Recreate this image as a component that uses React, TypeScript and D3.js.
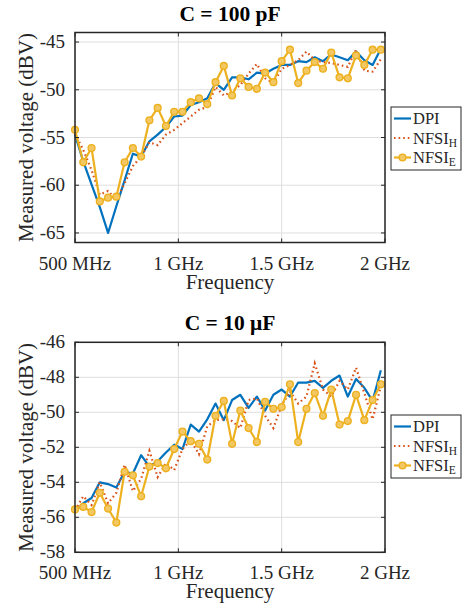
import React from 'react';
import * as d3 from 'd3';

// frequency points (GHz), 40 MHz steps
const FREQ_GHZ = [
  0.5, 0.54, 0.58, 0.62, 0.66, 0.7, 0.74, 0.78, 0.82, 0.86, 0.9, 0.94, 0.98,
  1.02, 1.06, 1.1, 1.14, 1.18, 1.22, 1.26, 1.3, 1.34, 1.38, 1.42, 1.46, 1.5,
  1.54, 1.58, 1.62, 1.66, 1.7, 1.74, 1.78, 1.82, 1.86, 1.9, 1.94, 1.98,
];

const X_TICKS = [0.5, 1, 1.5, 2];
const X_TICK_LABELS = ['500 MHz', '1 GHz', '1.5 GHz', '2 GHz'];

// C = 100 pF
const DPI_100P = [
  -54.7, -57.5, -59.9, -62.3, -65.0, -62.2, -59.5, -56.7, -57.0, -55.4, -54.7, -53.9, -52.8,
  -52.7, -51.6, -51.3, -50.9, -49.3, -50.0, -48.7, -48.7, -48.9, -48.2, -48.3, -47.8, -47.4,
  -47.4, -47.0, -47.1, -46.6, -47.0, -46.3, -46.6, -46.9, -46.0, -46.9, -47.4, -45.7,
];
const NFSIH_100P = [
  -54.6, -56.3, -58.4, -61.0, -60.6, -61.5, -59.8, -58.0, -57.0, -55.5, -55.8, -54.7, -54.2,
  -53.5, -52.8, -52.1, -51.8, -49.7, -50.6, -50.2, -49.5, -48.3, -47.3, -48.8, -49.3, -47.8,
  -47.4, -46.9, -46.0, -46.9, -47.1, -47.2, -47.4, -47.6, -45.8, -48.0, -48.1, -46.8,
];
const NFSIE_100P = [
  -54.2, -57.6, -56.1, -61.7, -61.3, -61.2, -57.6, -56.1, -57.0, -53.2, -51.9, -53.8, -52.3,
  -52.3, -51.3, -50.9, -51.5, -49.2, -47.5, -50.6, -48.8, -49.7, -49.9, -48.2, -49.2, -47.0,
  -45.8, -49.3, -48.0, -47.1, -47.8, -46.1, -48.7, -48.8, -46.4, -47.4, -45.8, -45.8,
];

// C = 10 uF
const DPI_10U = [
  -55.7, -55.2, -54.9, -54.0, -54.1, -54.3, -53.4, -53.5, -52.45, -53.1, -52.8, -52.3, -51.85,
  -52.1, -50.7, -51.1, -50.4, -49.5, -50.45, -49.3, -49.0, -49.75, -49.1, -49.9, -49.0, -48.7,
  -49.1, -48.3, -48.3, -48.2, -48.6, -48.2, -47.9, -49.1, -48.1, -48.6, -49.35, -47.6,
];
const NFSIH_10U = [
  -55.6, -54.8, -55.3, -54.0, -55.2, -54.6, -53.0, -54.5, -53.8, -52.2, -53.7, -52.9, -53.3,
  -52.1, -51.6, -52.4, -50.8, -50.45, -50.4, -50.5, -50.9, -49.3, -49.2, -50.2, -50.9, -49.6,
  -48.8, -49.5, -49.1, -47.2, -48.7, -49.1, -48.2, -48.7, -47.45, -48.9, -50.4, -48.5,
];
const NFSIE_10U = [
  -55.55, -55.4, -55.7, -54.6, -55.5, -56.3, -53.4, -53.6, -54.8, -53.1, -52.9, -53.2, -52.1,
  -51.1, -51.65, -51.8, -52.7, -50.2, -49.35, -51.8, -49.9, -50.9, -51.7, -49.4, -49.8, -49.7,
  -48.4, -51.7, -49.8, -48.9, -50.2, -48.7, -50.7, -50.5, -49.0, -50.45, -49.3, -48.4,
];

const BLUE = '#0072BD';
const RED = '#D95319';
const YELLOW = '#EDB120';
const AXIS = '#262626';
const FONT = 'Liberation Serif';

interface PanelProps {
  top: number;
  title: string;
  yDomain: [number, number];
  yTicks: number[];
  dpi: number[];
  nfsiH: number[];
  nfsiE: number[];
  legendTop: number;
}

const Panel = ({ top, title, yDomain, yTicks, dpi, nfsiH, nfsiE, legendTop }: PanelProps) => {
  const left = 75, right = 385, h = 210;
  const x = d3.scaleLinear().domain([0.5, 2]).range([left, right]);
  const y = d3.scaleLinear().domain(yDomain).range([top + h, top]);
  const line = d3.line<number>().x((_, i) => x(FREQ_GHZ[i])).y((d) => y(d));
  const tk = 4;

  return (
    <g fill={AXIS}>
      <text x={230} y={top - 12} textAnchor="middle" fontFamily={FONT} fontSize={21.5} fontWeight="bold" fill="#000">{title}</text>
      {/* grid */}
      {X_TICKS.map((t) => (
        <line key={'gx' + t} x1={x(t)} x2={x(t)} y1={top} y2={top + h} stroke="#dedede" strokeWidth={1} />
      ))}
      {yTicks.map((t) => (
        <line key={'gy' + t} x1={left} x2={right} y1={y(t)} y2={y(t)} stroke="#dedede" strokeWidth={1} />
      ))}
      {/* series */}
      <path d={line(dpi) ?? ''} fill="none" stroke={BLUE} strokeWidth={2.2} strokeLinejoin="round" />
      <path d={line(nfsiH) ?? ''} fill="none" stroke={RED} strokeWidth={2.2} strokeDasharray="1.6 3" />
      <path d={line(nfsiE) ?? ''} fill="none" stroke={YELLOW} strokeWidth={2.2} strokeLinejoin="round" />
      {nfsiE.map((d, i) => (
        <circle key={i} cx={x(FREQ_GHZ[i])} cy={y(d)} r={3.4} fill="#F3C862" stroke={YELLOW} strokeWidth={1.4} />
      ))}
      {/* box and ticks */}
      <rect x={left} y={top} width={right - left} height={h} fill="none" stroke={AXIS} strokeWidth={1.5} />
      {X_TICKS.map((t) => (
        <g key={'tx' + t}>
          <line x1={x(t)} x2={x(t)} y1={top + h} y2={top + h - tk} stroke={AXIS} />
          <line x1={x(t)} x2={x(t)} y1={top} y2={top + tk} stroke={AXIS} />
        </g>
      ))}
      {yTicks.map((t) => (
        <g key={'ty' + t}>
          <line x1={left} x2={left + tk} y1={y(t)} y2={y(t)} stroke={AXIS} />
          <line x1={right} x2={right - tk} y1={y(t)} y2={y(t)} stroke={AXIS} />
          <text x={65} y={y(t) + 6} textAnchor="end" fontFamily={FONT} fontSize={19}>{t}</text>
        </g>
      ))}
      {X_TICKS.map((t, i) => (
        <text key={'lx' + t} x={x(t)} y={top + h + 27} textAnchor="middle" fontFamily={FONT} fontSize={19}>{X_TICK_LABELS[i]}</text>
      ))}
      <text x={230} y={top + h + 46} textAnchor="middle" fontFamily={FONT} fontSize={21}>Frequency</text>
      <text transform={`translate(33,${top + h / 2}) rotate(-90)`} textAnchor="middle" fontFamily={FONT} fontSize={21}>Measured voltage (dBV)</text>
      {/* legend */}
      <g transform={`translate(391,${legendTop})`}>
        <rect x={0} y={0} width={70} height={63} fill="#fff" stroke={AXIS} strokeWidth={1} />
        {[
          { label: 'DPI', sub: '', color: BLUE, dash: undefined, marker: false },
          { label: 'NFSI', sub: 'H', color: RED, dash: '1.6 3', marker: false },
          { label: 'NFSI', sub: 'E', color: YELLOW, dash: undefined, marker: true },
        ].map((it, i) => {
          const cy = 11.5 + i * 19.5;
          return (
            <g key={i}>
              <line x1={3} x2={20} y1={cy} y2={cy} stroke={it.color} strokeWidth={2.2} strokeDasharray={it.dash} />
              {it.marker && <circle cx={11.5} cy={cy} r={3.4} fill="#F3C862" stroke={YELLOW} strokeWidth={1.4} />}
              <text x={22} y={cy + 5.5} fontFamily={FONT} fontSize={16.5}>
                {it.label}
                {it.sub && <tspan fontSize={11.5} baselineShift="-25%">{it.sub}</tspan>}
              </text>
            </g>
          );
        })}
      </g>
    </g>
  );
};

export default function App() {
  return (
    <svg width={466} height={608} style={{ position: 'absolute', left: 0, top: 0, background: '#fff' }}>
      <rect width={466} height={608} fill="#fff" />
      <Panel
        top={32.5}
        title="C = 100 pF"
        yDomain={[-66, -44]}
        yTicks={[-65, -60, -55, -50, -45]}
        dpi={DPI_100P}
        nfsiH={NFSIH_100P}
        nfsiE={NFSIE_100P}
        legendTop={107}
      />
      <Panel
        top={342.3}
        title="C = 10 μF"
        yDomain={[-58, -46]}
        yTicks={[-58, -56, -54, -52, -50, -48, -46]}
        dpi={DPI_10U}
        nfsiH={NFSIH_10U}
        nfsiE={NFSIE_10U}
        legendTop={415}
      />
    </svg>
  );
}
